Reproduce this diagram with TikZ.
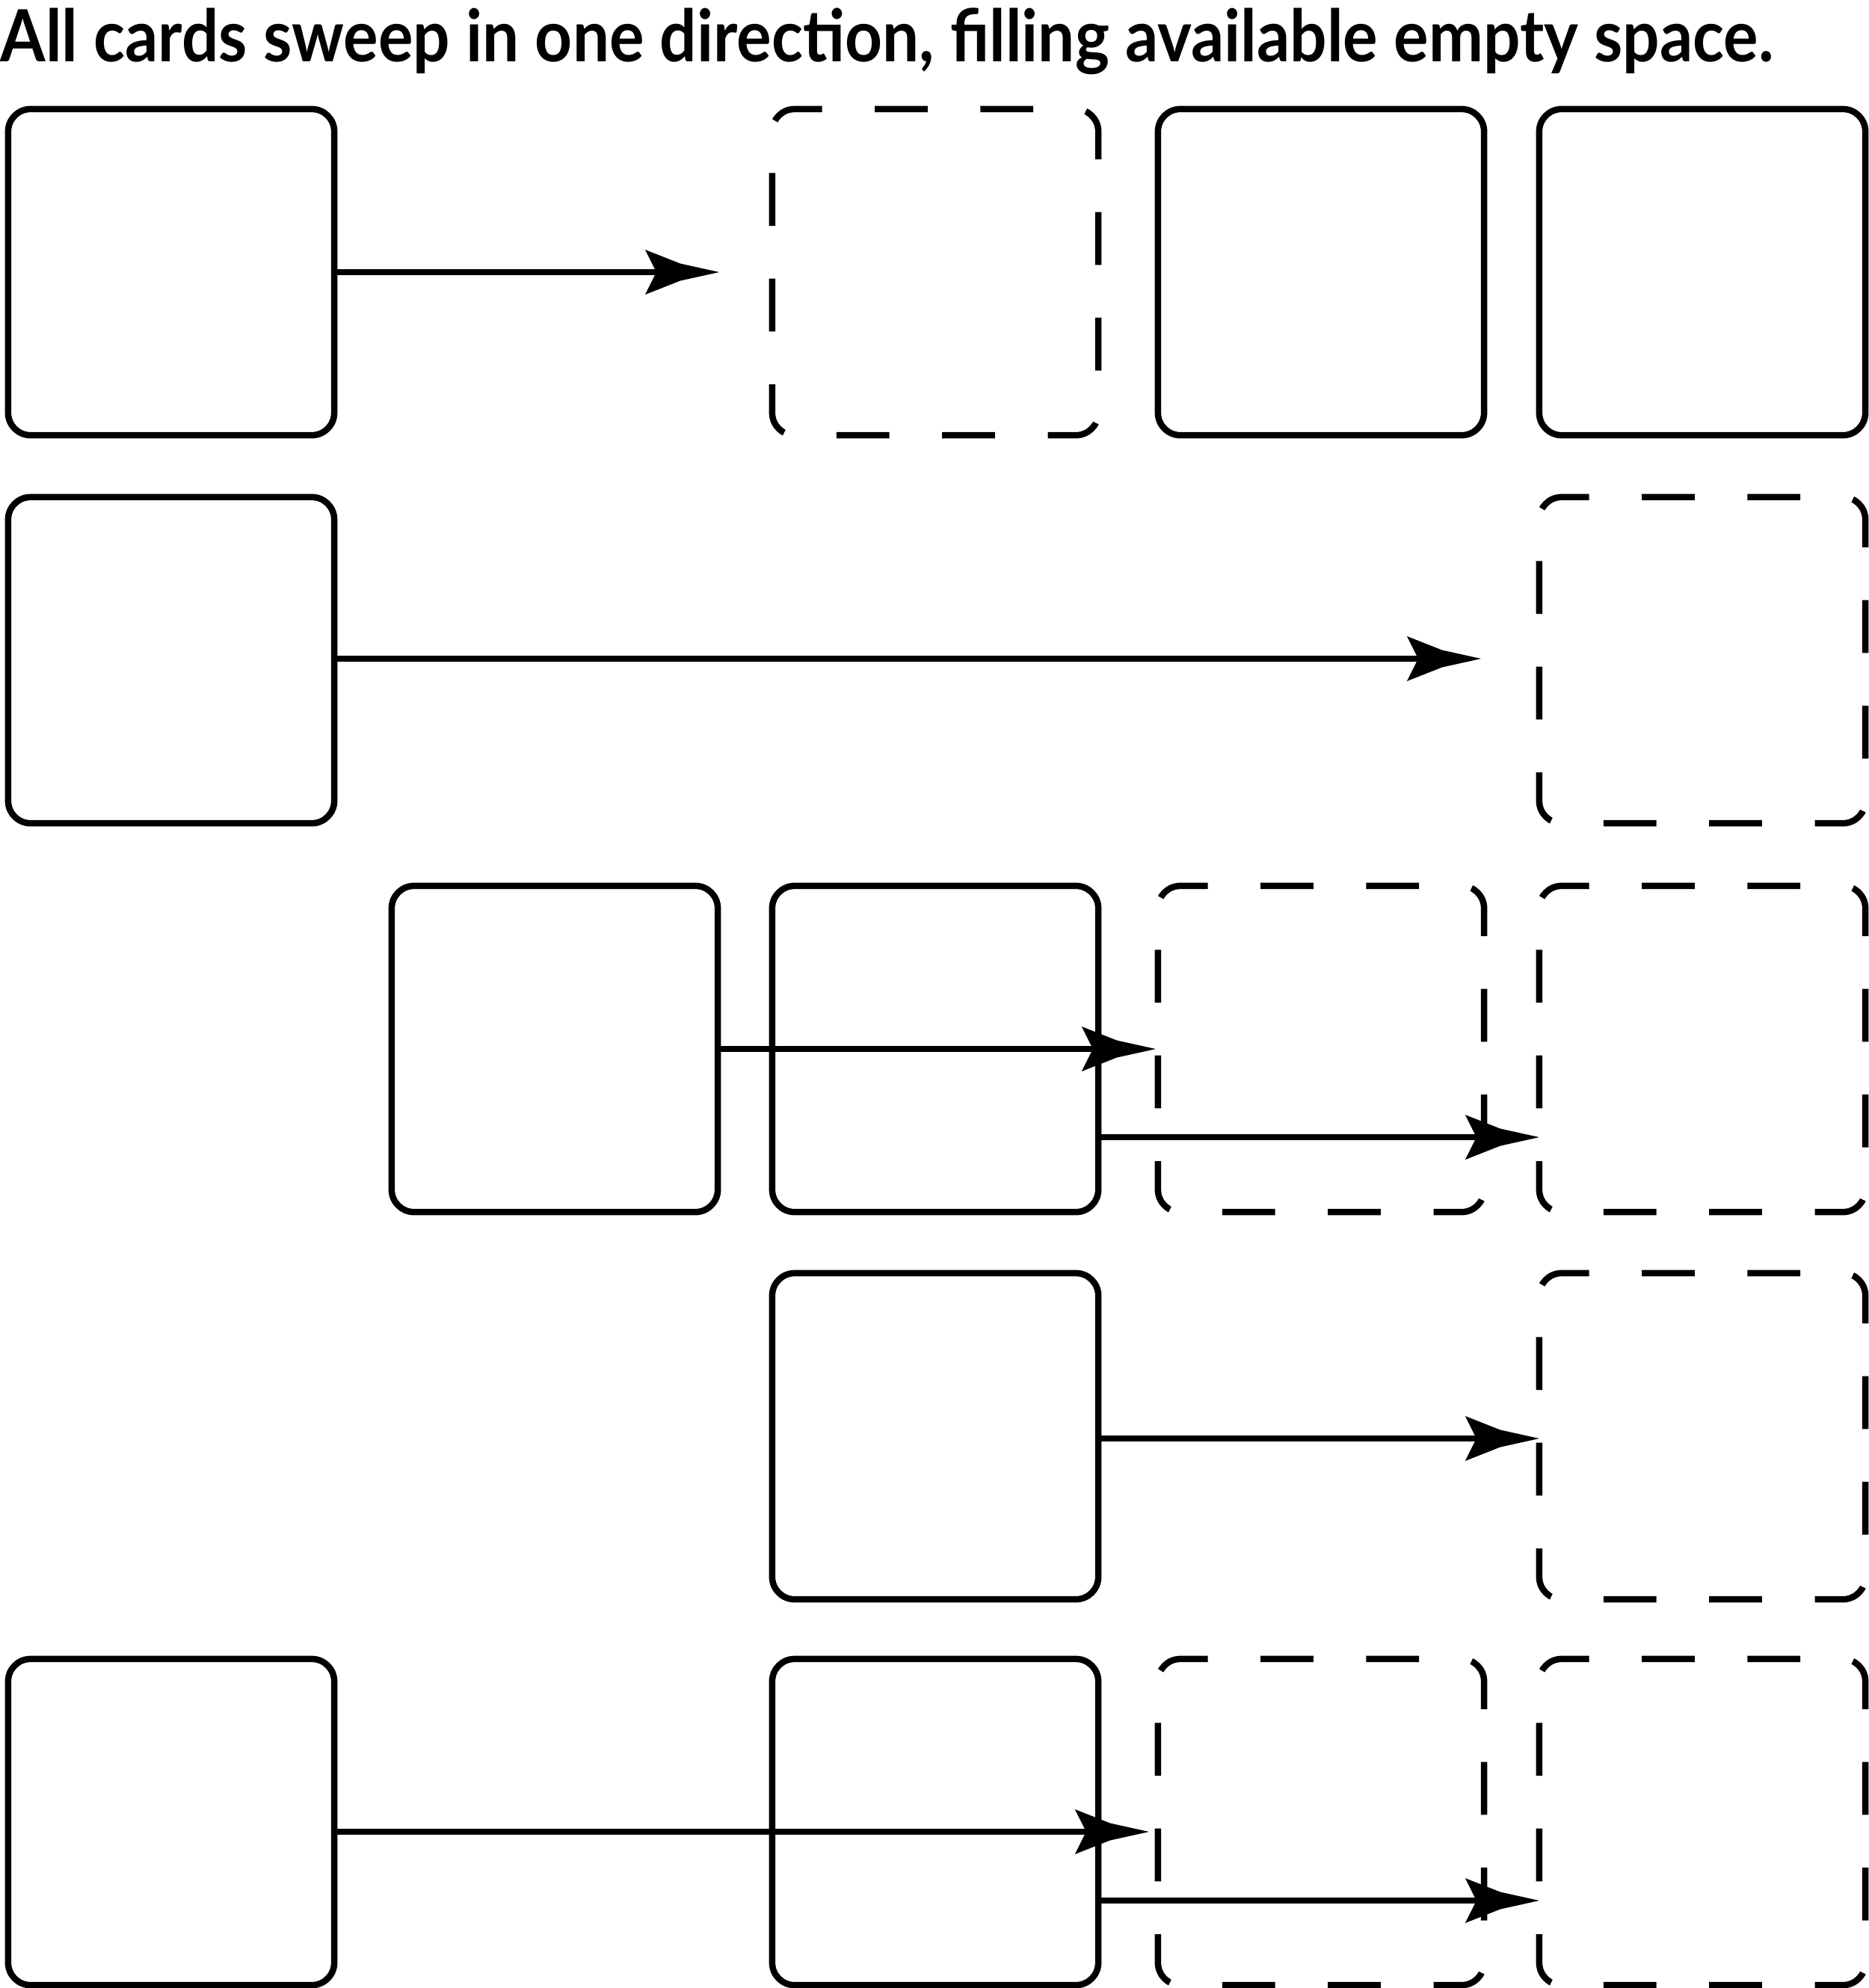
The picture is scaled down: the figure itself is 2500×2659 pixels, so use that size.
\documentclass[tikz,border=0pt]{standalone}
\usepackage{graphicx}
\usepackage{fontspec}
\setmainfont{Lato}
\usetikzlibrary{arrows.meta,calc}
\pgfdeclarearrow{
  name = Kite,
  setup code = {
    \pgfarrowssettipend{0pt}
    \pgfarrowssetlineend{-18pt}
    \pgfarrowssetbackend{-28.17pt}
    \pgfarrowssetvisualbackend{-23.9pt}
    \pgfarrowshullpoint{0pt}{0pt}
    \pgfarrowshullpoint{-28.17pt}{8.54pt}
    \pgfarrowshullpoint{-28.17pt}{-8.54pt}
  },
  drawing code = {
    \pgfpathmoveto{\pgfqpoint{0pt}{0pt}}
    \pgfpathlineto{\pgfqpoint{-14.8pt}{3.27pt}}
    \pgfpathlineto{\pgfqpoint{-28.17pt}{8.54pt}}
    \pgfpathlineto{\pgfqpoint{-23.9pt}{0pt}}
    \pgfpathlineto{\pgfqpoint{-28.17pt}{-8.54pt}}
    \pgfpathlineto{\pgfqpoint{-14.8pt}{-3.27pt}}
    \pgfpathclose
    \pgfusepathqfill
  }
}
\tikzset{
  card/.style={rectangle, minimum width=4.36cm, minimum height=4.36cm, inner sep=0pt, outer sep=0pt, draw=none},
  cardline/.style={line width=0.085cm, black},
  ghost/.style={dash pattern=on 0.706cm off 0.706cm, dash phase=0.34cm},
  link/.style={line width=0.08cm, black, -Kite}
}
\newcommand\cardoutline[2][]{%
  \draw[cardline,#1] ([xshift=0.3cm]#2.north west) -- ([xshift=-0.3cm]#2.north east)
    arc[start angle=90, end angle=0, radius=0.3cm] -- ([yshift=0.3cm]#2.south east)
    arc[start angle=0, end angle=-90, radius=0.3cm] -- ([xshift=0.3cm]#2.south west)
    arc[start angle=-90, end angle=-180, radius=0.3cm] -- ([yshift=-0.3cm]#2.north west)
    arc[start angle=180, end angle=90, radius=0.3cm] -- cycle;}
\begin{document}
\begin{tikzpicture}[x=0.01cm, y=-0.01cm]
\useasboundingbox (0,0) rectangle (2500,2659);
\node[anchor=base west, inner sep=0pt] (title) at (0,82)
  {\resizebox{674.3pt}{20.4pt}{\bfseries All cards sweep in one direction, filling available empty space.}};
% row 1
\node[card] (r1c1) at (229,364) {};
\node[card] (r1c3) at (1251,364) {};
\node[card] (r1c4) at (1767,364) {};
\node[card] (r1c5) at (2277,364) {};
% row 2
\node[card] (r2c1) at (229,883) {};
\node[card] (r2c5) at (2277,883) {};
% row 3
\node[card] (r3c2) at (742,1403) {};
\node[card] (r3c3) at (1251,1403) {};
\node[card] (r3c4) at (1767,1403) {};
\node[card] (r3c5) at (2277,1403) {};
% row 4
\node[card] (r4c3) at (1251,1921) {};
\node[card] (r4c5) at (2277,1921) {};
% row 5
\node[card] (r5c1) at (229,2437) {};
\node[card] (r5c3) at (1251,2437) {};
\node[card] (r5c4) at (1767,2437) {};
\node[card] (r5c5) at (2277,2437) {};
% outlines
\cardoutline{r1c1}
\cardoutline[ghost]{r1c3}
\cardoutline{r1c4}
\cardoutline{r1c5}
\cardoutline{r2c1}
\cardoutline[ghost]{r2c5}
\cardoutline{r3c2}
\cardoutline{r3c3}
\cardoutline[ghost]{r3c4}
\cardoutline[ghost]{r3c5}
\cardoutline{r4c3}
\cardoutline[ghost]{r4c5}
\cardoutline{r5c1}
\cardoutline{r5c3}
\cardoutline[ghost]{r5c4}
\cardoutline[ghost]{r5c5}
% free ends
\coordinate (r1tip) at (962,364);
\coordinate (r2tip) at (1981,881);
% connectors
\draw[link] (r1c1.east) -- (r1tip);
\draw[link] ([yshift=0.02cm]r2c1.east) -- (r2tip);
\draw[link] (r3c2.east) -- ([xshift=-0.03cm]r3c4.west);
\draw[link] ([yshift=-1.18cm]r3c3.east) -- ([yshift=-1.18cm]r3c5.west);
\draw[link] ([yshift=-0.03cm]r4c3.east) -- ([yshift=-0.03cm]r4c5.west);
\draw[link] ([yshift=-0.13cm]r5c1.east) -- ([xshift=-0.12cm,yshift=-0.13cm]r5c4.west);
\draw[link] ([yshift=-1.05cm]r5c3.east) -- ([yshift=-1.05cm]r5c5.west);
\end{tikzpicture}
\end{document}
